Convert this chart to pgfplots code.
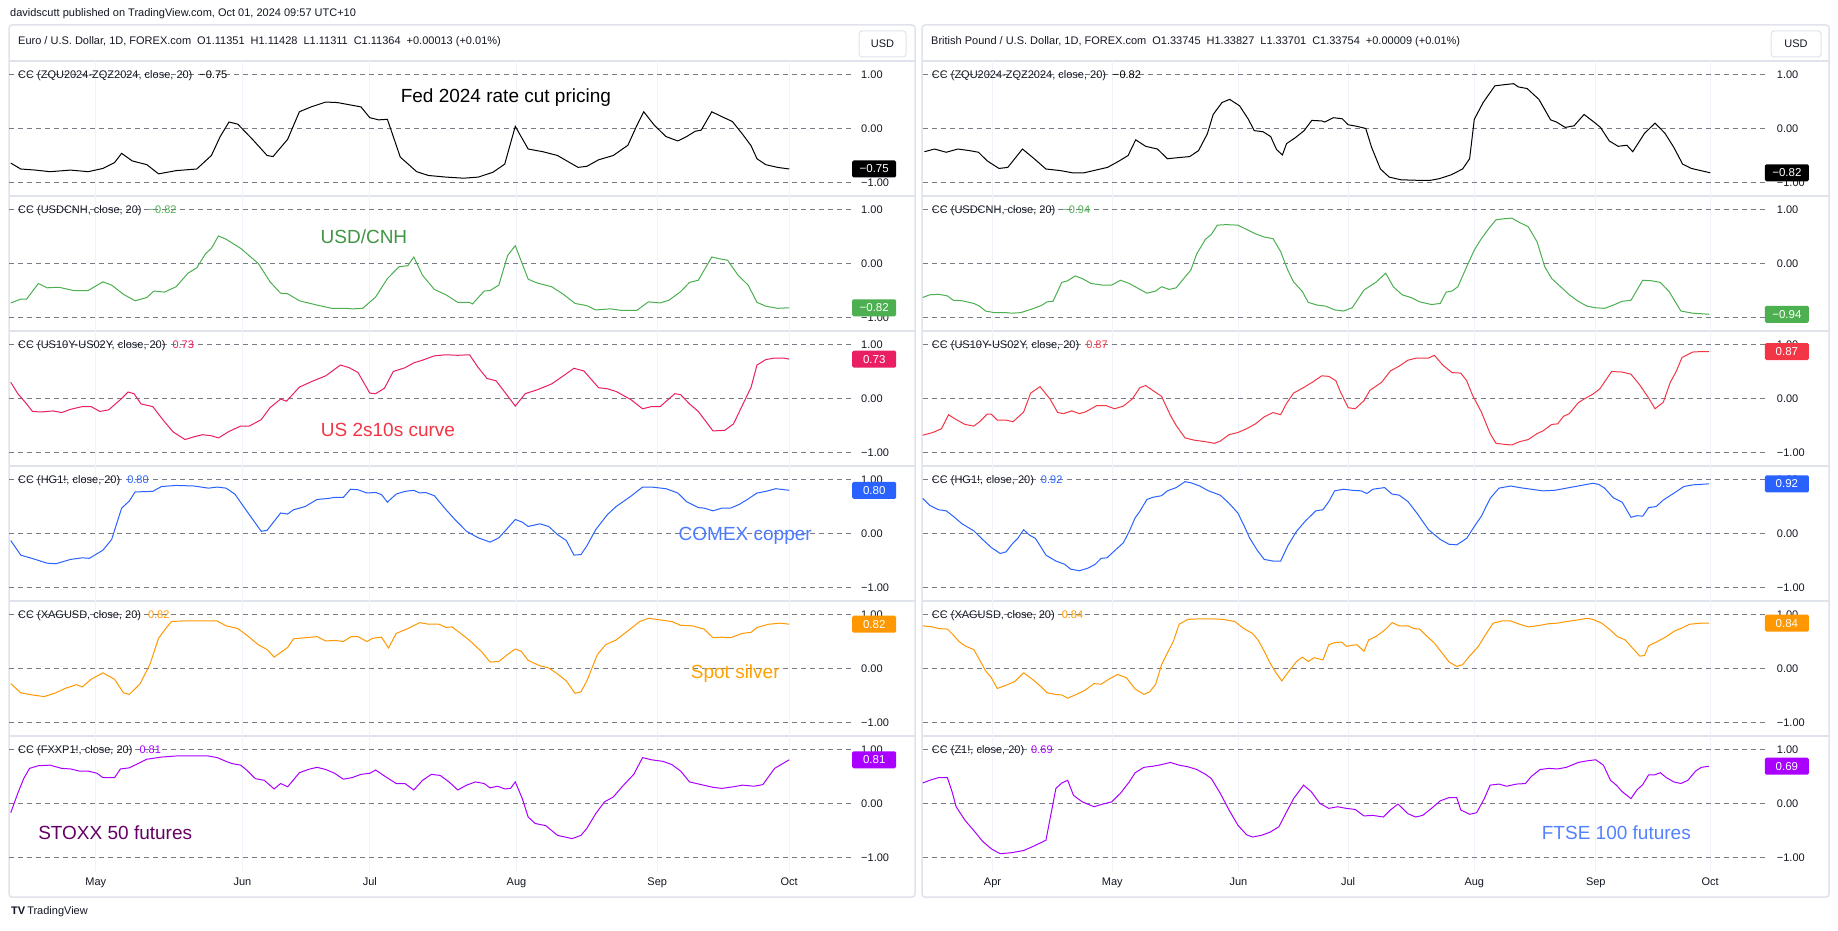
\documentclass[border=0pt]{standalone}
\usepackage{pgfplots}
\pgfplotsset{compat=1.18}
\usepackage{fontspec}
\setmainfont{Liberation Sans}

\definecolor{tvtext}{HTML}{131722}
\definecolor{tvgray}{HTML}{787B86}
\definecolor{tvgrid}{HTML}{F0F3FA}
\definecolor{tvborder}{HTML}{E0E3EB}
\definecolor{cgreen}{HTML}{4CAF50}
\definecolor{cpink}{HTML}{E91E63}
\definecolor{cred}{HTML}{F23645}
\definecolor{cblue}{HTML}{2962FF}
\definecolor{corange}{HTML}{FF9800}
\definecolor{cpurple}{HTML}{AA00FF}

\pgfplotsset{
  pane/.style={
    scale only axis, height=135pt, clip=false,
    ymin=-1.25, ymax=1.25,
    ytick={-1,0,1}, yticklabels={−1.00,0.00,1.00},
    yticklabel pos=right,
    yticklabel style={anchor=west, inner sep=0pt, xshift=9pt, font=\fontsize{11}{13}\selectfont, text=tvtext},
    xticklabel style={font=\fontsize{11}{13}\selectfont, text=tvtext, yshift=-3pt},
    axis line style={draw=none},
    major tick length=0pt,
    xmajorgrids, ymajorgrids,
    x grid style={tvgrid, line width=1pt},
    y grid style={tvgray, line width=0.8pt, dash pattern=on 5pt off 4pt},
    xticklabels={},
  },
  lpane/.style={pane, at={(9pt,#1)}, anchor=north west, width=843pt,
    xmin=15, xmax=1452, xtick={163,413,630,880,1120,1345}},
  rpane/.style={pane, at={(922.7pt,#1)}, anchor=north west, width=845pt,
    xmin=8, xmax=1448, xtick={127,331,546,733,948,1155,1350}},
}
\tikzset{
  badge/.style={anchor=west, text=white, minimum width=44pt, minimum height=17pt,
    inner sep=0pt, rounded corners=1.5pt, font=\fontsize{11.5}{13}\selectfont},
  leg/.style={anchor=west, inner sep=0pt, font=\fontsize{11}{13}\selectfont, text=tvtext, xshift=9pt, yshift=-1pt},
  note/.style={font=\fontsize{19}{22}\selectfont},
}

\begin{document}
\begin{tikzpicture}[x=1pt,y=1pt]
\fill[white] (0,0) rectangle (1838,-931);
\useasboundingbox (0,0) rectangle (1838,-931);

% frames
\draw[tvborder, line width=1.5pt, rounded corners=3pt] (9,-25) rectangle (915,-897);
\draw[tvborder, line width=1.5pt, rounded corners=3pt] (922,-25) rectangle (1829,-897);
\foreach \yy in {61,196,331,466,601,736} {
  \draw[tvborder, line width=1.5pt] (9,-\yy) -- (915,-\yy);
  \draw[tvborder, line width=1.5pt] (922,-\yy) -- (1829,-\yy);
}

\node[anchor=west, inner sep=0pt, font=\fontsize{11}{13}\selectfont, text=tvtext] at (10,-14)
  {davidscutt published on TradingView.com, Oct 01, 2024 09:57 UTC+10};
\node[anchor=west, inner sep=0pt, font=\fontsize{11}{13}\selectfont, text=tvtext] at (18,-42)
  {Euro / U.S. Dollar, 1D, FOREX.com\hspace{6pt}O1.11351\hspace{6pt}H1.11428\hspace{6pt}L1.11311\hspace{6pt}C1.11364\hspace{6pt}+0.00013 (+0.01\%)};
\node[anchor=west, inner sep=0pt, font=\fontsize{11}{13}\selectfont, text=tvtext] at (931,-42)
  {British Pound / U.S. Dollar, 1D, FOREX.com\hspace{6pt}O1.33745\hspace{6pt}H1.33827\hspace{6pt}L1.33701\hspace{6pt}C1.33754\hspace{6pt}+0.00009 (+0.01\%)};
\draw[tvborder, line width=1pt, rounded corners=3pt] (859,-31) rectangle (906,-57);
\node[font=\fontsize{11}{13}\selectfont, text=tvtext] at (882.5,-44) {USD};
\draw[tvborder, line width=1pt, rounded corners=3pt] (1771,-31) rectangle (1821,-57);
\node[font=\fontsize{11}{13}\selectfont, text=tvtext] at (1796,-44) {USD};
\node[anchor=west, inner sep=0pt, font=\fontsize{11}{13}\selectfont, text=tvtext] at (11,-912)
  {{\bfseries TV}\hspace{2pt}TradingView};

% ---------------- left column ----------------
\begin{axis}[lpane=-61pt]
\addplot[black, line width=1pt] coordinates {(18,-0.64)(35,-0.75)(60,-0.77)(85,-0.80)(120,-0.77)(150,-0.80)(175,-0.74)(195,-0.63)(207,-0.46)(225,-0.60)(250,-0.67)(270,-0.84)(300,-0.78)(335,-0.75)(360,-0.50)(375,-0.15)(390,0.12)(405,0.08)(430,-0.20)(455,-0.50)(465,-0.52)(490,-0.20)(510,0.31)(530,0.40)(555,0.49)(575,0.48)(600,0.43)(615,0.40)(630,0.20)(645,0.16)(660,0.17)(682,-0.53)(710,-0.80)(730,-0.87)(760,-0.90)(790,-0.92)(815,-0.90)(840,-0.81)(860,-0.66)(878,0.04)(900,-0.38)(925,-0.43)(950,-0.50)(985,-0.72)(1000,-0.70)(1020,-0.58)(1045,-0.50)(1070,-0.31)(1085,0.05)(1097,0.31)(1115,0.06)(1135,-0.15)(1155,-0.23)(1170,-0.15)(1185,-0.05)(1195,-0.03)(1213,0.31)(1230,0.22)(1248,0.13)(1265,-0.10)(1280,-0.32)(1290,-0.56)(1305,-0.67)(1325,-0.72)(1345,-0.75)};
\node[leg] at (axis cs:15,1) {CC (ZQU2024-ZQZ2024, close, 20)\hspace{7pt}\textcolor{black}{−0.75}};
\node[badge, fill=black] at (axis cs:1452,-0.75) {−0.75};
\node[note, text=black] at (axis cs:862,0.57) {Fed 2024 rate cut pricing};
\end{axis}

\begin{axis}[lpane=-196pt]
\addplot[cgreen, line width=1pt] coordinates {(18,-0.73)(35,-0.66)(45,-0.66)(65,-0.37)(80,-0.45)(100,-0.44)(125,-0.50)(150,-0.50)(175,-0.34)(190,-0.40)(210,-0.57)(230,-0.69)(250,-0.63)(262,-0.51)(280,-0.53)(300,-0.43)(320,-0.18)(335,-0.08)(350,0.18)(360,0.28)(372,0.51)(385,0.45)(410,0.28)(440,0.00)(460,-0.34)(478,-0.55)(490,-0.56)(510,-0.69)(540,-0.77)(565,-0.83)(590,-0.83)(600,-0.84)(618,-0.83)(640,-0.62)(660,-0.28)(680,-0.06)(695,-0.04)(705,0.12)(720,-0.22)(740,-0.48)(760,-0.58)(780,-0.72)(800,-0.72)(805,-0.75)(825,-0.51)(835,-0.50)(850,-0.40)(865,0.15)(878,0.33)(900,-0.29)(915,-0.36)(940,-0.43)(960,-0.57)(980,-0.74)(1000,-0.78)(1015,-0.86)(1040,-0.84)(1060,-0.87)(1085,-0.87)(1105,-0.71)(1125,-0.73)(1140,-0.68)(1160,-0.52)(1175,-0.35)(1190,-0.31)(1213,0.12)(1225,0.09)(1240,0.06)(1258,-0.22)(1275,-0.40)(1290,-0.72)(1305,-0.79)(1325,-0.83)(1345,-0.82)};
\node[leg] at (axis cs:15,1) {CC (USDCNH, close, 20)\hspace{7pt}\textcolor{cgreen}{−0.82}};
\node[badge, fill=cgreen] at (axis cs:1452,-0.82) {−0.82};
\node[note, text=cgreen!85!black] at (axis cs:620,0.50) {USD/CNH};
\end{axis}

\begin{axis}[lpane=-331pt]
\addplot[cpink, line width=1pt] coordinates {(18,0.30)(30,0.09)(45,-0.10)(55,-0.24)(70,-0.25)(90,-0.23)(105,-0.26)(120,-0.20)(140,-0.15)(155,-0.15)(170,-0.24)(185,-0.21)(205,-0.02)(218,0.12)(228,0.09)(240,-0.10)(260,-0.15)(280,-0.43)(295,-0.62)(315,-0.76)(330,-0.71)(345,-0.67)(360,-0.69)(372,-0.73)(390,-0.61)(410,-0.51)(425,-0.51)(445,-0.39)(460,-0.17)(478,-0.01)(488,-0.05)(510,0.21)(530,0.31)(555,0.42)(580,0.62)(595,0.57)(610,0.48)(630,0.10)(640,0.09)(655,0.19)(670,0.50)(690,0.57)(705,0.66)(720,0.71)(740,0.79)(760,0.81)(780,0.80)(800,0.81)(815,0.57)(830,0.37)(845,0.33)(860,0.12)(878,-0.14)(895,0.09)(915,0.16)(940,0.27)(960,0.42)(978,0.56)(995,0.51)(1020,0.20)(1035,0.18)(1050,0.13)(1075,-0.02)(1095,-0.19)(1110,-0.15)(1125,-0.15)(1150,0.09)(1160,0.07)(1175,-0.10)(1190,-0.24)(1215,-0.60)(1235,-0.59)(1250,-0.47)(1265,-0.13)(1280,0.21)(1290,0.62)(1305,0.72)(1320,0.75)(1335,0.75)(1345,0.73)};
\node[leg] at (axis cs:15,1) {CC (US10Y-US02Y, close, 20)\hspace{7pt}\textcolor{cpink}{0.73}};
\node[badge, fill=cpink] at (axis cs:1452,0.73) {0.73};
\node[note, text=cred] at (axis cs:661,-0.59) {US 2s10s curve};
\end{axis}

\begin{axis}[lpane=-466pt]
\addplot[cblue, line width=1pt] coordinates {(18,-0.13)(35,-0.40)(60,-0.48)(80,-0.55)(95,-0.56)(120,-0.48)(140,-0.45)(152,-0.46)(175,-0.31)(190,-0.11)(207,0.47)(220,0.60)(230,0.77)(260,0.78)(275,0.87)(300,0.89)(330,0.88)(355,0.84)(370,0.86)(385,0.84)(400,0.73)(420,0.42)(445,0.04)(455,0.06)(478,0.38)(490,0.36)(500,0.44)(520,0.50)(540,0.63)(560,0.65)(570,0.67)(585,0.67)(597,0.82)(610,0.81)(625,0.75)(640,0.76)(650,0.72)(660,0.58)(675,0.73)(690,0.78)(705,0.80)(715,0.75)(725,0.76)(740,0.70)(760,0.44)(775,0.26)(795,0.04)(815,-0.08)(835,-0.16)(850,-0.08)(865,0.10)(878,0.26)(890,0.21)(900,0.13)(920,0.18)(935,0.13)(950,-0.02)(965,-0.13)(978,-0.40)(990,-0.39)(1000,-0.23)(1015,0.07)(1035,0.35)(1050,0.50)(1075,0.69)(1095,0.86)(1110,0.86)(1135,0.83)(1155,0.75)(1170,0.59)(1190,0.48)(1200,0.47)(1215,0.42)(1230,0.47)(1245,0.47)(1260,0.54)(1275,0.64)(1290,0.75)(1305,0.78)(1322,0.83)(1345,0.80)};
\node[leg] at (axis cs:15,1) {CC (HG1!, close, 20)\hspace{7pt}\textcolor{cblue}{0.80}};
\node[badge, fill=cblue] at (axis cs:1452,0.80) {0.80};
\node[note, text=cblue!85!white] at (axis cs:1270,-0.05) {COMEX copper};
\end{axis}

\begin{axis}[lpane=-601pt]
\addplot[corange, line width=1pt] coordinates {(18,-0.28)(35,-0.45)(55,-0.49)(75,-0.52)(95,-0.45)(110,-0.37)(130,-0.30)(140,-0.34)(155,-0.20)(175,-0.08)(195,-0.20)(210,-0.45)(220,-0.48)(238,-0.29)(255,0.07)(270,0.56)(280,0.71)(292,0.87)(310,0.88)(340,0.88)(370,0.88)(385,0.79)(405,0.74)(420,0.62)(440,0.44)(455,0.35)(467,0.21)(490,0.39)(500,0.55)(520,0.57)(540,0.59)(555,0.51)(570,0.52)(585,0.50)(598,0.59)(610,0.59)(625,0.50)(635,0.56)(650,0.58)(662,0.38)(675,0.65)(695,0.74)(715,0.85)(730,0.82)(748,0.82)(760,0.76)(770,0.77)(785,0.65)(800,0.52)(820,0.32)(835,0.12)(850,0.13)(865,0.26)(878,0.36)(888,0.32)(900,0.15)(920,0.05)(935,0.01)(950,-0.10)(965,-0.23)(980,-0.46)(990,-0.43)(1000,-0.23)(1018,0.26)(1032,0.44)(1050,0.53)(1075,0.74)(1090,0.87)(1105,0.93)(1125,0.90)(1145,0.87)(1160,0.80)(1180,0.79)(1200,0.73)(1215,0.57)(1230,0.58)(1245,0.57)(1265,0.65)(1280,0.67)(1290,0.76)(1310,0.82)(1330,0.84)(1345,0.82)};
\node[leg] at (axis cs:15,1) {CC (XAGUSD, close, 20)\hspace{7pt}\textcolor{corange}{0.82}};
\node[badge, fill=corange] at (axis cs:1452,0.82) {0.82};
\node[note, text=corange!90!yellow] at (axis cs:1253,-0.10) {Spot silver};
\end{axis}

\begin{axis}[lpane=-736pt, xticklabels={May,Jun,Jul,Aug,Sep,Oct}]
\addplot[cpurple, line width=1pt] coordinates {(18,-0.17)(30,0.19)(40,0.46)(50,0.65)(65,0.70)(85,0.71)(105,0.65)(120,0.64)(135,0.60)(150,0.60)(165,0.56)(175,0.48)(195,0.48)(205,0.64)(220,0.66)(235,0.74)(250,0.82)(275,0.86)(300,0.88)(330,0.88)(355,0.88)(370,0.85)(385,0.78)(395,0.74)(410,0.71)(420,0.62)(435,0.46)(450,0.43)(467,0.27)(478,0.37)(490,0.31)(510,0.57)(525,0.63)(540,0.67)(555,0.63)(570,0.56)(585,0.45)(600,0.48)(615,0.54)(630,0.56)(640,0.62)(655,0.51)(675,0.37)(690,0.37)(705,0.25)(720,0.43)(735,0.54)(750,0.52)(765,0.40)(780,0.25)(795,0.34)(810,0.40)(825,0.37)(835,0.29)(848,0.32)(860,0.27)(870,0.28)(878,0.40)(890,0.09)(900,-0.25)(912,-0.37)(930,-0.41)(950,-0.59)(975,-0.65)(990,-0.59)(1000,-0.46)(1015,-0.19)(1030,0.03)(1045,0.12)(1060,0.31)(1080,0.54)(1095,0.85)(1110,0.81)(1130,0.78)(1145,0.72)(1160,0.60)(1175,0.40)(1195,0.35)(1215,0.30)(1230,0.28)(1250,0.31)(1265,0.34)(1285,0.32)(1300,0.35)(1320,0.65)(1345,0.81)};
\node[leg] at (axis cs:15,1) {CC (FXXP1!, close, 20)\hspace{7pt}\textcolor{cpurple}{0.81}};
\node[badge, fill=cpurple] at (axis cs:1452,0.81) {0.81};
\node[note, text=violet!80!black] at (axis cs:196,-0.55) {STOXX 50 futures};
\end{axis}

% ---------------- right column ----------------
\begin{axis}[rpane=-61pt]
\addplot[black, line width=1pt] coordinates {(11,-0.43)(28,-0.38)(48,-0.44)(68,-0.38)(88,-0.41)(103,-0.44)(118,-0.60)(138,-0.74)(153,-0.72)(178,-0.38)(198,-0.56)(218,-0.75)(243,-0.78)(263,-0.82)(283,-0.82)(303,-0.77)(323,-0.72)(343,-0.60)(358,-0.50)(371,-0.21)(388,-0.33)(408,-0.38)(425,-0.56)(443,-0.54)(463,-0.52)(478,-0.41)(493,-0.10)(503,0.26)(518,0.48)(531,0.54)(548,0.42)(563,0.17)(573,-0.04)(588,-0.06)(601,-0.15)(611,-0.39)(621,-0.49)(628,-0.28)(643,-0.17)(658,-0.04)(671,0.15)(688,0.14)(693,0.12)(708,0.20)(723,0.18)(733,0.07)(748,0.04)(763,0.00)(773,-0.35)(788,-0.75)(803,-0.90)(823,-0.95)(853,-0.96)(873,-0.96)(888,-0.93)(908,-0.86)(928,-0.75)(940,-0.56)(948,0.17)(963,0.48)(983,0.79)(998,0.81)(1015,0.83)(1023,0.77)(1038,0.74)(1058,0.54)(1078,0.16)(1088,0.12)(1103,0.02)(1118,0.05)(1135,0.26)(1153,0.11)(1163,0.02)(1178,-0.23)(1193,-0.33)(1208,-0.31)(1218,-0.43)(1238,-0.09)(1256,0.10)(1273,-0.09)(1288,-0.35)(1303,-0.66)(1318,-0.74)(1338,-0.79)(1350,-0.82)};
\node[leg] at (axis cs:8,1) {CC (ZQU2024-ZQZ2024, close, 20)\hspace{7pt}\textcolor{black}{−0.82}};
\node[badge, fill=black, xshift=-3pt] at (axis cs:1448,-0.82) {−0.82};
\end{axis}

\begin{axis}[rpane=-196pt]
\addplot[cgreen, line width=1pt] coordinates {(8,-0.63)(20,-0.58)(35,-0.57)(50,-0.60)(60,-0.68)(75,-0.69)(95,-0.74)(105,-0.79)(115,-0.88)(130,-0.91)(150,-0.91)(160,-0.92)(175,-0.91)(195,-0.84)(210,-0.78)(220,-0.71)(230,-0.70)(245,-0.35)(255,-0.32)(268,-0.23)(280,-0.28)(295,-0.37)(315,-0.40)(330,-0.40)(345,-0.31)(360,-0.37)(375,-0.46)(390,-0.55)(405,-0.51)(415,-0.43)(428,-0.48)(440,-0.45)(455,-0.25)(465,-0.12)(475,0.18)(490,0.45)(500,0.54)(510,0.71)(525,0.72)(545,0.71)(560,0.63)(575,0.55)(590,0.49)(605,0.46)(618,0.22)(630,-0.12)(640,-0.34)(655,-0.52)(665,-0.72)(680,-0.77)(695,-0.79)(710,-0.86)(725,-0.88)(740,-0.82)(760,-0.49)(780,-0.35)(797,-0.18)(810,-0.43)(825,-0.58)(840,-0.63)(855,-0.71)(875,-0.76)(890,-0.74)(900,-0.53)(910,-0.51)(920,-0.43)(935,-0.06)(948,0.25)(960,0.46)(975,0.68)(985,0.81)(1000,0.83)(1012,0.84)(1025,0.76)(1040,0.68)(1055,0.40)(1068,-0.06)(1080,-0.28)(1095,-0.43)(1110,-0.58)(1125,-0.70)(1140,-0.79)(1155,-0.82)(1170,-0.83)(1185,-0.77)(1200,-0.70)(1215,-0.68)(1235,-0.31)(1250,-0.32)(1265,-0.35)(1280,-0.52)(1300,-0.88)(1320,-0.92)(1348,-0.94)};
\node[leg] at (axis cs:8,1) {CC (USDCNH, close, 20)\hspace{7pt}\textcolor{cgreen}{−0.94}};
\node[badge, fill=cgreen, xshift=-3pt] at (axis cs:1448,-0.94) {−0.94};
\end{axis}

\begin{axis}[rpane=-331pt]
\addplot[cred, line width=1pt] coordinates {(8,-0.68)(25,-0.63)(40,-0.56)(52,-0.30)(65,-0.39)(80,-0.48)(95,-0.51)(105,-0.43)(118,-0.29)(125,-0.29)(135,-0.40)(150,-0.40)(162,-0.43)(180,-0.25)(192,0.10)(208,0.22)(225,-0.01)(238,-0.26)(248,-0.28)(262,-0.23)(275,-0.28)(285,-0.25)(305,-0.13)(320,-0.13)(335,-0.19)(350,-0.14)(365,-0.01)(378,0.20)(388,0.24)(400,0.15)(415,0.04)(430,-0.31)(440,-0.50)(455,-0.73)(470,-0.77)(490,-0.80)(505,-0.83)(515,-0.79)(530,-0.67)(545,-0.63)(560,-0.56)(575,-0.47)(590,-0.34)(605,-0.26)(618,-0.30)(628,-0.09)(640,0.10)(655,0.19)(672,0.30)(688,0.42)(700,0.41)(712,0.33)(720,0.12)(733,-0.17)(745,-0.19)(760,-0.04)(770,0.15)(790,0.30)(805,0.51)(820,0.60)(835,0.71)(850,0.75)(870,0.75)(880,0.80)(895,0.61)(910,0.48)(925,0.47)(935,0.33)(945,0.06)(960,-0.25)(975,-0.65)(985,-0.83)(1000,-0.85)(1012,-0.86)(1025,-0.80)(1040,-0.76)(1055,-0.65)(1065,-0.60)(1080,-0.48)(1090,-0.47)(1100,-0.33)(1110,-0.28)(1125,-0.08)(1135,-0.01)(1150,0.08)(1162,0.18)(1182,0.50)(1200,0.49)(1215,0.45)(1230,0.25)(1245,0.01)(1256,-0.19)(1270,-0.07)(1282,0.30)(1292,0.50)(1302,0.76)(1320,0.86)(1335,0.87)(1348,0.87)};
\node[leg] at (axis cs:8,1) {CC (US10Y-US02Y, close, 20)\hspace{7pt}\textcolor{cred}{0.87}};
\node[badge, fill=cred, xshift=-3pt] at (axis cs:1448,0.87) {0.87};
\end{axis}

\begin{axis}[rpane=-466pt]
\addplot[cblue, line width=1pt] coordinates {(8,0.65)(20,0.52)(35,0.44)(48,0.42)(60,0.32)(75,0.18)(95,0.05)(110,-0.11)(125,-0.26)(140,-0.37)(150,-0.34)(160,-0.20)(170,-0.09)(180,0.07)(190,-0.03)(200,-0.09)(210,-0.26)(218,-0.40)(235,-0.51)(250,-0.57)(260,-0.66)(275,-0.69)(290,-0.64)(302,-0.57)(312,-0.46)(322,-0.45)(335,-0.32)(350,-0.17)(360,0.04)(370,0.29)(378,0.41)(390,0.63)(400,0.67)(415,0.70)(425,0.79)(440,0.85)(455,0.96)(465,0.94)(480,0.88)(495,0.79)(515,0.71)(530,0.56)(545,0.38)(555,0.16)(565,-0.08)(578,-0.31)(590,-0.48)(605,-0.51)(618,-0.51)(630,-0.23)(645,0.04)(660,0.23)(678,0.42)(690,0.44)(700,0.59)(710,0.79)(725,0.82)(740,0.80)(755,0.79)(765,0.74)(775,0.82)(795,0.85)(808,0.73)(820,0.71)(835,0.59)(850,0.38)(870,0.07)(890,-0.11)(905,-0.20)(918,-0.21)(935,-0.09)(948,0.13)(960,0.32)(975,0.65)(990,0.84)(1010,0.88)(1025,0.85)(1045,0.82)(1065,0.79)(1085,0.80)(1105,0.84)(1130,0.89)(1150,0.93)(1160,0.91)(1170,0.84)(1185,0.66)(1200,0.58)(1215,0.30)(1225,0.33)(1235,0.32)(1245,0.48)(1258,0.50)(1270,0.62)(1290,0.76)(1305,0.87)(1320,0.90)(1348,0.92)};
\node[leg] at (axis cs:8,1) {CC (HG1!, close, 20)\hspace{7pt}\textcolor{cblue}{0.92}};
\node[badge, fill=cblue, xshift=-3pt] at (axis cs:1448,0.92) {0.92};
\end{axis}

\begin{axis}[rpane=-601pt]
\addplot[corange, line width=1pt] coordinates {(8,0.79)(25,0.77)(35,0.74)(50,0.73)(60,0.62)(70,0.50)(80,0.42)(95,0.35)(105,0.16)(115,-0.04)(125,-0.17)(135,-0.37)(150,-0.31)(165,-0.24)(180,-0.08)(195,-0.20)(210,-0.34)(220,-0.45)(235,-0.48)(245,-0.49)(255,-0.55)(270,-0.48)(285,-0.40)(300,-0.28)(312,-0.29)(325,-0.20)(340,-0.11)(355,-0.17)(370,-0.38)(385,-0.48)(395,-0.43)(405,-0.29)(415,0.07)(425,0.29)(435,0.50)(445,0.82)(460,0.91)(480,0.92)(500,0.92)(520,0.91)(540,0.87)(555,0.74)(570,0.65)(580,0.52)(590,0.32)(600,0.10)(610,-0.08)(620,-0.23)(630,-0.08)(645,0.13)(655,0.21)(665,0.13)(675,0.20)(690,0.16)(700,0.44)(710,0.48)(722,0.49)(730,0.41)(740,0.43)(748,0.44)(760,0.32)(768,0.53)(780,0.59)(795,0.71)(808,0.85)(820,0.79)(835,0.79)(845,0.74)(855,0.73)(865,0.62)(880,0.47)(895,0.26)(905,0.12)(918,0.04)(928,0.07)(940,0.23)(955,0.41)(965,0.59)(980,0.84)(995,0.88)(1010,0.88)(1025,0.82)(1040,0.77)(1060,0.80)(1075,0.83)(1090,0.84)(1105,0.87)(1125,0.90)(1140,0.93)(1150,0.91)(1165,0.84)(1178,0.73)(1192,0.59)(1205,0.53)(1220,0.35)(1230,0.23)(1238,0.24)(1245,0.42)(1260,0.50)(1275,0.59)(1290,0.70)(1300,0.74)(1315,0.82)(1335,0.84)(1348,0.84)};
\node[leg] at (axis cs:8,1) {CC (XAGUSD, close, 20)\hspace{7pt}\textcolor{corange}{0.84}};
\node[badge, fill=corange, xshift=-3pt] at (axis cs:1448,0.84) {0.84};
\end{axis}

\begin{axis}[rpane=-736pt, xticklabels={Apr,May,Jun,Jul,Aug,Sep,Oct}]
\addplot[cpurple, line width=1pt] coordinates {(8,0.38)(20,0.43)(35,0.48)(50,0.48)(58,0.22)(65,-0.06)(80,-0.31)(95,-0.50)(110,-0.70)(125,-0.84)(140,-0.93)(160,-0.91)(180,-0.87)(195,-0.80)(218,-0.68)(235,0.28)(245,0.38)(255,0.43)(265,0.15)(280,0.03)(300,-0.06)(315,-0.01)(330,0.03)(345,0.19)(360,0.40)(370,0.57)(385,0.67)(400,0.69)(415,0.72)(430,0.76)(445,0.71)(460,0.68)(475,0.63)(490,0.54)(500,0.46)(515,0.19)(530,-0.12)(545,-0.40)(560,-0.58)(570,-0.62)(585,-0.59)(600,-0.53)(615,-0.43)(625,-0.22)(640,0.09)(657,0.34)(670,0.22)(685,0.00)(700,-0.09)(715,-0.06)(730,-0.09)(745,-0.11)(760,-0.23)(775,-0.22)(793,-0.25)(805,-0.12)(818,-0.01)(835,-0.19)(848,-0.25)(860,-0.22)(875,-0.09)(890,0.05)(905,0.11)(918,0.11)(925,-0.12)(940,-0.20)(952,-0.17)(965,0.09)(975,0.34)(990,0.36)(1003,0.32)(1020,0.36)(1035,0.37)(1045,0.50)(1060,0.63)(1075,0.65)(1090,0.64)(1105,0.67)(1125,0.76)(1140,0.79)(1155,0.81)(1168,0.71)(1180,0.43)(1190,0.34)(1200,0.22)(1215,0.09)(1225,0.25)(1235,0.35)(1245,0.53)(1255,0.53)(1265,0.57)(1275,0.48)(1288,0.40)(1300,0.37)(1312,0.43)(1325,0.60)(1335,0.67)(1348,0.69)};
\node[leg] at (axis cs:8,1) {CC (Z1!, close, 20)\hspace{7pt}\textcolor{cpurple}{0.69}};
\node[badge, fill=cpurple, xshift=-3pt] at (axis cs:1448,0.69) {0.69};
\node[note, text=cblue!80!white] at (axis cs:1190,-0.55) {FTSE 100 futures};
\end{axis}

\end{tikzpicture}
\end{document}
